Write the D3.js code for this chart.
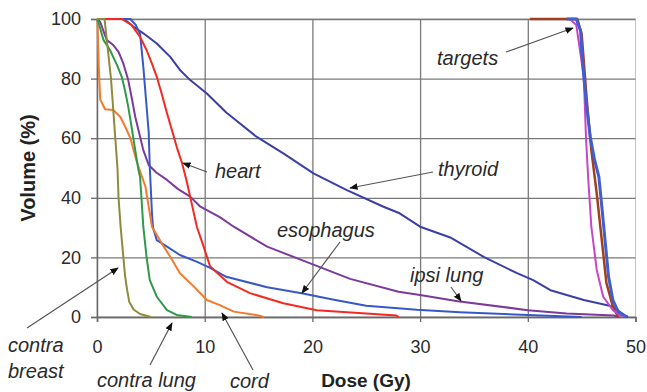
<!DOCTYPE html>
<html>
<head>
<meta charset="utf-8">
<script src="https://cdn.jsdelivr.net/npm/d3@7"></script>
<style>
  body { margin: 0; background: #fff; }
  text { font-family: Arial, "Liberation Sans", sans-serif; }
  .lbl { font-style: italic; font-size: 20px; fill: #2a2a2a; }
</style>
</head>
<body>
<svg class="dvh_chart" width="647" height="392"></svg>
<script>
// dose (Gy), volume (%) pairs
var contraBreast = [[0,100],[0.7,100],[1.0,90],[1.3,80],[1.5,70],[1.7,60],[1.9,50],[2.0,40],[2.2,30],[2.45,20],[2.6,14],[2.8,9],[3.0,5],[3.4,2.5],[4.0,1],[5.0,0]];
var cord = [[0,100],[0.05,99],[0.15,85],[0.3,73],[0.75,69.7],[1.5,69.5],[2.15,67.2],[2.6,64],[3.1,60],[3.7,52],[4.5,43.7],[5.1,30.3],[6.0,24.8],[6.8,20.2],[7.7,14.7],[9.0,10.2],[10.2,5.7],[11.4,4],[12.7,1.8],[15,0.5],[15.5,0]];
var contraLung = [[0,100],[0.13,99],[0.6,93],[1.2,89.6],[1.85,84.6],[2.3,80.6],[2.6,76],[2.9,70.6],[3.2,64],[3.55,56],[3.85,49.3],[4.0,47],[4.3,30.3],[4.6,20.2],[4.9,12.4],[5.55,6.8],[6.5,2.3],[7.4,0.7],[8.8,0]];
var ipsiLung = [[0,100],[0.3,99],[0.9,93],[1.5,91.3],[2.0,89],[2.45,85],[2.9,79.5],[3.2,74],[3.55,67.2],[4.0,60.5],[4.3,56],[4.8,51],[5.5,48.5],[6.5,46],[7.5,43],[8.65,40.4],[9.6,37],[11.4,33.5],[12.7,30.3],[15.8,23.6],[19.8,18],[23.5,12.8],[28,8.5],[30,7.4],[33.5,5.3],[40,2.3],[43.6,1.2],[48,0.5],[48.5,0]];
var esophagus = [[0,100],[3.1,100],[3.6,98],[4.0,95],[4.3,84],[4.55,73],[4.8,62],[4.9,50.4],[5.1,35],[5.2,30],[5.55,25.8],[6.5,23.6],[7.7,20.8],[9.3,18.5],[10.5,16.5],[12,13.5],[15.8,10],[19,8],[22,5.8],[25,3.8],[29.7,2.4],[33.7,1.6],[40,0.7],[45,0]];
var thyroid = [[0,100],[2.5,100],[3.4,97.4],[4.3,95.2],[5.55,91.8],[6.8,87.3],[7.7,82.9],[8.65,79.5],[10.2,75],[12,68.6],[14.8,60.5],[17.3,54.9],[20.1,48.2],[23.2,42.6],[26.6,37],[28.1,34.8],[30,30.3],[32.8,26.7],[35.9,20.2],[39,14.7],[40.5,12.4],[42.1,9],[45.2,5.7],[47.9,3.5],[48.9,0.7],[49.3,0]];
var heart = [[0,100],[2.3,100],[3.2,98],[4.0,94],[4.6,89.6],[5.1,85],[5.55,80.6],[6.0,75],[6.5,68.4],[6.95,62.8],[7.4,57.1],[7.9,51.6],[8.3,46],[8.65,40.4],[9.27,30.3],[9.9,23.6],[10.5,17],[11.4,14],[12.05,11.8],[14.2,8],[17.3,4.6],[20.4,2.3],[25,1.2],[27.8,0.5],[28,0]];
var targetBrown = [[40.2,100],[44.6,100],[45.0,95],[45.5,71.7],[45.9,56],[46.4,41.5],[46.9,24.8],[47.3,11.4],[47.9,3.5],[48.4,0]];
var targetBlue = [[43.6,100],[44.5,100],[44.9,96],[45.0,89.6],[45.2,80.6],[45.5,69.5],[45.8,60.5],[46.2,52.7],[46.6,47],[46.9,36],[47.2,24.7],[47.5,13.5],[47.9,5.7],[48.4,1.8],[49.2,0]];
var targetMagenta = [[43.9,100],[44.5,98],[45.2,80.6],[45.4,60.5],[45.6,47],[45.9,30.3],[46.4,15.8],[47.0,6.8],[47.9,2.3],[48.6,0.5],[48.8,0]];

var xTicks = [0, 10, 20, 30, 40, 50];
var yTicks = [0, 20, 40, 60, 80, 100];

var series = [
    { data: ipsiLung, color: "#7b3a9c", w: 2 },
    { data: thyroid, color: "#3a3fa6", w: 2 },
    { data: esophagus, color: "#3858c8", w: 2 },
    { data: heart, color: "#f42a22", w: 2 },
    { data: cord, color: "#f47a2c", w: 2 },
    { data: contraLung, color: "#2e9a4a", w: 2 },
    { data: contraBreast, color: "#8e8c3c", w: 2 },
    { data: targetBrown, color: "#a2401e", w: 2.5 },
    { data: targetMagenta, color: "#c845c8", w: 2 },
    { data: targetBlue, color: "#3f5fd0", w: 3 }
];

var svg = d3.select('.dvh_chart');
var margin = { top: 19, left: 97 },
    width = 538.5,
    height = 298;

var xScale = d3.scaleLinear().domain([0, 50]).range([0, width]);
var yScale = d3.scaleLinear().domain([0, 100]).range([height, 0]);

var defs = svg.append("defs");
defs.append("marker")
    .attr("id", "arr")
    .attr("viewBox", "0 0 10 10")
    .attr("refX", 9).attr("refY", 5)
    .attr("markerWidth", 7).attr("markerHeight", 7)
    .attr("orient", "auto")
    .append("path")
    .attr("d", "M0,1L10,5L0,9Z")
    .attr("fill", "#111");

var chart = svg.append("g")
    .attr("transform", "translate(" + margin.left + "," + margin.top + ")");

// frame (light top/right)
chart.append("rect")
    .attr("width", width).attr("height", height)
    .attr("fill", "none").attr("stroke", "#c9c9c9").attr("stroke-width", 1.2);

// grid
chart.append("g")
    .call(d3.axisLeft(yScale).tickValues(yTicks).tickSize(-width).tickFormat(""))
    .call(function (g) { g.select(".domain").remove(); })
    .selectAll("line").attr("stroke", "#7a7a7a").attr("stroke-width", 1.3);
chart.append("g")
    .call(d3.axisBottom(xScale).tickValues(xTicks.slice(1, 5)).tickSize(height).tickFormat(""))
    .call(function (g) { g.select(".domain").remove(); })
    .selectAll("line").attr("stroke", "#7a7a7a").attr("stroke-width", 1.3);

// axes
var yAxis = chart.append("g")
    .call(d3.axisLeft(yScale).tickValues(yTicks).tickSize(6).tickPadding(10));
var xAxis = chart.append("g")
    .attr("transform", "translate(0," + height + ")")
    .call(d3.axisBottom(xScale).tickValues(xTicks).tickSize(5).tickPadding(18));
[yAxis, xAxis].forEach(function (a) {
    a.select(".domain").attr("stroke", "#6a6a6a").attr("stroke-width", 1.5);
    a.selectAll("line").attr("stroke", "#6a6a6a").attr("stroke-width", 1.3);
    a.selectAll("text").attr("font-size", 18).attr("fill", "#2a2a2a")
        .attr("font-family", "Arial, 'Liberation Sans', sans-serif");
});

// curves
var line = d3.line()
    .x(function (d) { return xScale(d[0]); })
    .y(function (d) { return yScale(d[1]); });

chart.selectAll(".dvh")
    .data(series).enter()
    .append("path")
    .attr("class", "dvh")
    .attr("d", function (d) { return line(d.data); })
    .attr("fill", "none")
    .attr("stroke", function (d) { return d.color; })
    .attr("stroke-width", function (d) { return d.w; })
    .attr("stroke-linejoin", "round");

// axis titles
svg.append("text")
    .text("Dose (Gy)")
    .attr("x", 366).attr("y", 387)
    .attr("text-anchor", "middle")
    .attr("font-size", 19).attr("font-weight", "bold").attr("fill", "#222");
svg.append("text")
    .text("Volume (%)")
    .attr("transform", "translate(35,168) rotate(-90)")
    .attr("text-anchor", "middle")
    .attr("font-size", 20).attr("font-weight", "bold").attr("fill", "#222");

// annotations: label text, label pos, arrow start, arrow end (px)
var notes = [
    { t: ["targets"], x: 437, y: 65, a: [506, 52, 573, 28] },
    { t: ["thyroid"], x: 438, y: 176, a: [433, 172, 350, 188] },
    { t: ["heart"], x: 215, y: 178, a: [207, 172, 183, 163] },
    { t: ["esophagus"], x: 277, y: 237, a: [340, 242, 302, 293] },
    { t: ["ipsi lung"], x: 410, y: 282, a: [451, 287, 461, 301] },
    { t: ["cord"], x: 230, y: 388, a: [253, 370, 222, 313] },
    { t: ["contra lung"], x: 97, y: 387, a: [150, 365, 172, 323] },
    { t: ["contra", "breast"], x: 8, y: 352, a: [27, 328, 118, 268] }
];

var ann = svg.append("g");
notes.forEach(function (n) {
    ann.append("line")
        .attr("x1", n.a[0]).attr("y1", n.a[1])
        .attr("x2", n.a[2]).attr("y2", n.a[3])
        .attr("stroke", "#555").attr("stroke-width", 1.2)
        .attr("marker-end", "url(#arr)");
    n.t.forEach(function (s, i) {
        ann.append("text")
            .attr("class", "lbl")
            .attr("x", n.x).attr("y", n.y + i * 26)
            .text(s);
    });
});
</script>
</body>
</html>
